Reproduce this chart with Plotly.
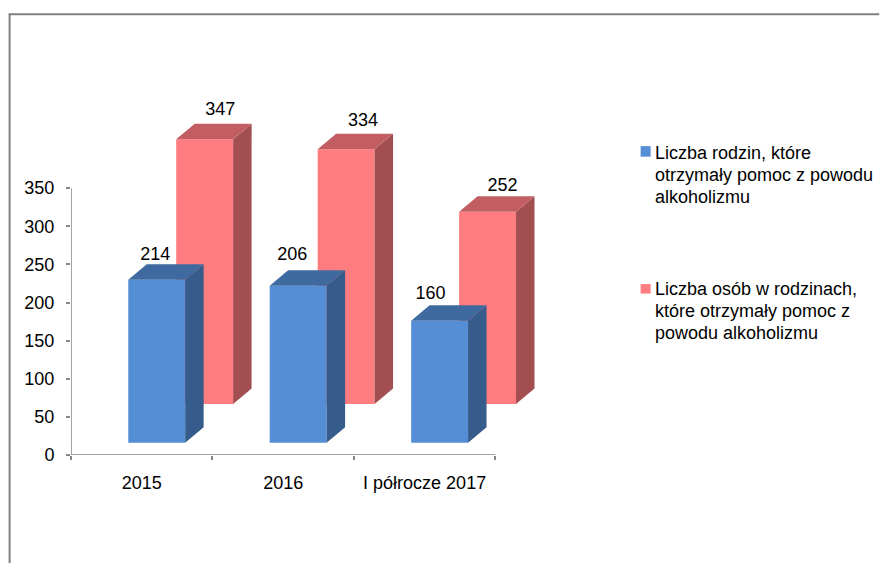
import plotly.graph_objects as go

categories = ["2015", "2016", "I półrocze 2017"]
families = [214, 206, 160]
persons = [347, 334, 252]
y_ticks = [0, 50, 100, 150, 200, 250, 300, 350]
series_lines = [
    ["Liczba rodzin, które", "otrzymały pomoc z powodu", "alkoholizmu"],
    ["Liczba osób w rodzinach,", "które otrzymały pomoc z", "powodu alkoholizmu"],
]

W, H = 880, 563
L, B = 70.5, 455
PXX = 425 / 3
PXY = 267 / 350
XMAX, YMAX = 3.45, 480
R = L + XMAX * PXX
T = B - YMAX * PXY
BAR_W = 57 / PXX
DX = 18.5 / PXX
DY = 15.5 / PXY
FS = 18
FONT = "Liberation Sans, Arial, sans-serif"
AXIS = "#868686"
CLEAR = "rgba(0,0,0,0)"


def px(x):
    return (x - L) / (R - L)


def py(y):
    return (B - y) / (B - T)


def add_series(fig, values, centre, base, front, side, top, label_dx, label_dy, xa, ya):
    xs = [i + centre for i in range(len(values))]
    fig.add_trace(go.Bar(x=xs, y=values, base=[base] * len(values), width=BAR_W,
                         marker=dict(color=front, line=dict(width=0)),
                         showlegend=False, xaxis=xa, yaxis=ya, hoverinfo="skip"))
    for x, v in zip(xs, values):
        xr = x + BAR_W / 2
        xl = x - BAR_W / 2
        bottom, upper = base, base + v
        fig.add_trace(go.Scatter(
            x=[xr, xr + DX, xr + DX, xr, xr], y=[bottom, bottom + DY, upper + DY, upper, bottom],
            mode="lines", fill="toself", fillcolor=side, line=dict(width=0, color=side),
            showlegend=False, xaxis=xa, yaxis=ya, hoverinfo="skip"))
        fig.add_trace(go.Scatter(
            x=[xl, xr, xr + DX, xl + DX, xl], y=[upper, upper, upper + DY, upper + DY, upper],
            mode="lines", fill="toself", fillcolor=top, line=dict(width=0, color=top),
            showlegend=False, xaxis=xa, yaxis=ya, hoverinfo="skip"))
    fig.add_trace(go.Scatter(
        x=[x + d / PXX for x, d in zip(xs, label_dx)],
        y=[base + v + d for v, d in zip(values, label_dy)],
        mode="text", text=[str(v) for v in values], textposition="middle center",
        textfont=dict(family=FONT, size=FS, color="#000000"),
        showlegend=False, xaxis=xa, yaxis=ya, hoverinfo="skip"))


fig = go.Figure()
add_series(fig, persons, 0.945, 67, "#FF7C80", "#A34F52", "#C25E61",
           [15.5, 17, 15], [38, 36, 33], "x", "y")
add_series(fig, families, 0.606, 16, "#558ED5", "#355C8A", "#3F6A9F",
           [-1.5, -6, -9], [32, 39, 34.5], "x2", "y2")

shapes = [
    dict(type="line", xref="paper", yref="paper", x0=px(9), x1=px(9), y0=py(14), y1=py(H), line=dict(color="#808080", width=2)),
    dict(type="line", xref="paper", yref="paper", x0=px(8), x1=px(W), y0=py(14), y1=py(14), line=dict(color="#808080", width=2)),
    dict(type="rect", xref="paper", yref="paper", x0=px(641), x1=px(651), y0=py(146), y1=py(156.5), fillcolor="#558ED5", line=dict(width=0)),
    dict(type="rect", xref="paper", yref="paper", x0=px(641), x1=px(651), y0=py(284), y1=py(293.5), fillcolor="#FF7C80", line=dict(width=0)),
    dict(type="line", xref="x", yref="y", x0=0, x1=0, y0=0, y1=350, line=dict(color=AXIS, width=1.5), layer="below"),
    dict(type="line", xref="x", yref="y", x0=0, x1=3, y0=0, y1=0, line=dict(color=AXIS, width=1.5), layer="below"),
]
annotations = []
for lines, ys in zip(series_lines, [[152.7, 175, 197], [288.5, 311, 333]]):
    for text, yc in zip(lines, ys):
        annotations.append(dict(xref="paper", yref="paper", x=px(655), y=py(yc), text=text, showarrow=False,
                                xanchor="left", yanchor="middle", align="left",
                                font=dict(family=FONT, size=FS, color="#000000"), borderpad=0, borderwidth=0))

tick_font = dict(family=FONT, size=FS, color="#000000")
fig.update_layout(
    width=W, height=H, autosize=False, showlegend=False,
    paper_bgcolor="#FFFFFF", plot_bgcolor="rgba(0,0,0,0)",
    margin=dict(l=L, r=W - R, t=T, b=H - B, pad=0),
    shapes=shapes, annotations=annotations,
    xaxis=dict(range=[0, XMAX], tickmode="array", tickvals=[0.5, 1.5, 2.5], ticktext=categories,
               ticks="outside", ticklen=11, tickcolor=CLEAR, showgrid=False, zeroline=False,
               showline=False, tickfont=tick_font,
               minor=dict(tickmode="array", tickvals=[0, 1, 2, 3], ticks="outside", ticklen=4,
                          tickcolor=AXIS, tickwidth=1.5, showgrid=False)),
    yaxis=dict(range=[0, YMAX], tickmode="array", tickvals=y_ticks, ticks="outside", ticklen=12,
               tickcolor=CLEAR, showgrid=False, zeroline=False, showline=False, tickfont=tick_font,
               minor=dict(tickmode="array", tickvals=y_ticks, ticks="outside", ticklen=4,
                          tickcolor=AXIS, tickwidth=1.5, showgrid=False)),
    xaxis2=dict(range=[0, XMAX], overlaying="x", visible=False),
    yaxis2=dict(range=[0, YMAX], overlaying="y", visible=False),
)
fig.write_html("out.html", config={"displayModeBar": False},
               post_script="document.body.style.margin='0';")
